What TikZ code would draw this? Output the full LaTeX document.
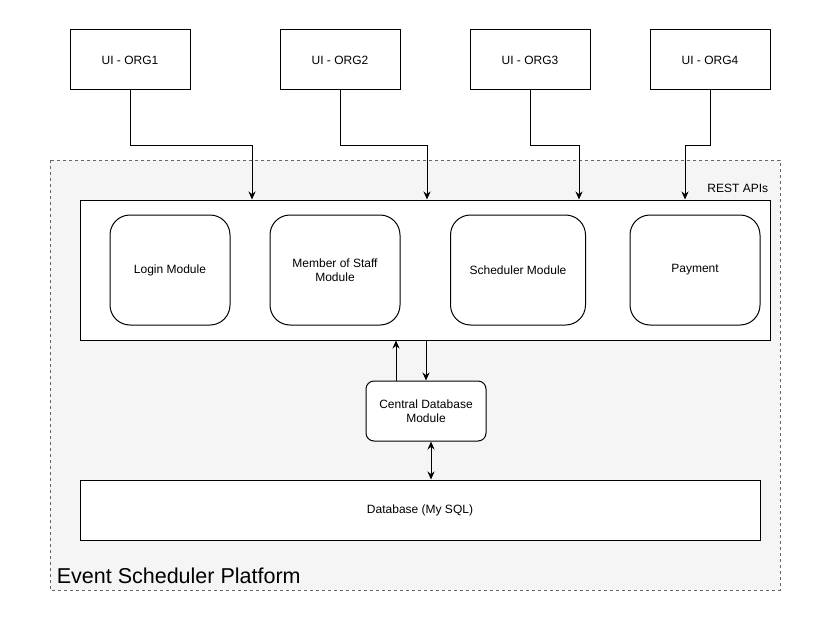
\documentclass[tikz,border=0pt]{standalone}
\usepackage{fontspec}
\setmainfont{Liberation Sans}
\usepackage{xcolor}
\usepackage{tikz}
\usetikzlibrary{arrows.meta,positioning,calc}

\definecolor{platfill}{HTML}{F5F5F5}
\definecolor{platline}{HTML}{666666}

\begin{document}
\begin{tikzpicture}[
					x=1pt, y=-1pt,
					font=\fontsize{12}{14}\selectfont,
					>={Stealth[length=8pt,width=7pt]},
					line width=1pt,
					uibox/.style={
						rectangle, draw=black, fill=white,
						minimum width=120pt, minimum height=60pt,
						inner sep=0pt, align=center
					},
					module/.style={
						rectangle, rounded corners=20pt,
						draw=black, fill=white,
						minimum height=110pt, inner sep=0pt,
						align=center
					},
					layer/.style={
						rectangle, draw=black, fill=white,
						inner sep=0pt, align=center
					},
					arr/.style={->, line width=1pt, black}
					]
					\useasboundingbox (0,0) rectangle (821,631);
					%% ─── PLATFORM CONTAINER ──────────────────────────────────
					\draw[platline, fill=platfill, dash pattern=on 3pt off 3pt, line width=0.8pt]
						(50,160) rectangle (780,590);
					\node[anchor=base west, font=\fontsize{21.5}{24}\selectfont] (platform) at (53,583)
						{Event Scheduler Platform};
					
					%% ─── CLIENT UIs ──────────────────────────────────
					\node[uibox] (org1) at (130,60) {UI - ORG1};
					\node[uibox] (org2) at (340,60) {UI - ORG2};
					\node[uibox] (org3) at (530,60) {UI - ORG3};
					\node[uibox] (org4) at (710,60) {UI - ORG4};
					
					%% ─── API LAYER ──────────────────────────────────
					\node[layer, minimum width=690pt, minimum height=140pt] (rest) at (425,270) {};
					\node[anchor=base east] (restlbl) at (772,193) {REST APIs};
					
					\node[module, minimum width=120pt] (login) at (170,270) {Login Module};
					\node[module, minimum width=130pt] (staff) at (335,270) {Member of Staff\\Module};
					\node[module, minimum width=135pt] (sched) at (518,270) {Scheduler Module};
					\node[module, minimum width=130pt] (pay) at (695,270) {Payment};
					
					\draw[arr] (org1.south) -- ++(0,55) -| ([xshift=-173pt]rest.north);
					\draw[arr] (org2.south) -- ++(0,55) -| ([xshift=2pt]rest.north);
					\draw[arr] (org3.south) -- ++(0,55) -| ([xshift=154pt]rest.north);
					\draw[arr] (org4.south) -- ++(0,55) -| ([xshift=260pt]rest.north);
					
					%% ─── DATA ACCESS ──────────────────────────────────
					\node[layer, rounded corners=8pt, minimum width=120pt, minimum height=60pt,
						below=40pt of rest, xshift=1pt] (cdb) {Central Database\\Module};
					\node[layer, minimum width=680pt, minimum height=60pt] (db) at (420,510)
						{Database (My SQL)};
					
					\draw[arr] ([xshift=-30pt]cdb.north) -- ([xshift=-30pt]cdb.north |- rest.south);
					\draw[arr] (cdb.north |- rest.south) -- (cdb.north);
					\draw[arr, <->] ([xshift=5pt]cdb.south) -- ([xshift=5pt]cdb.south |- db.north);
				\end{tikzpicture}
\end{document}
